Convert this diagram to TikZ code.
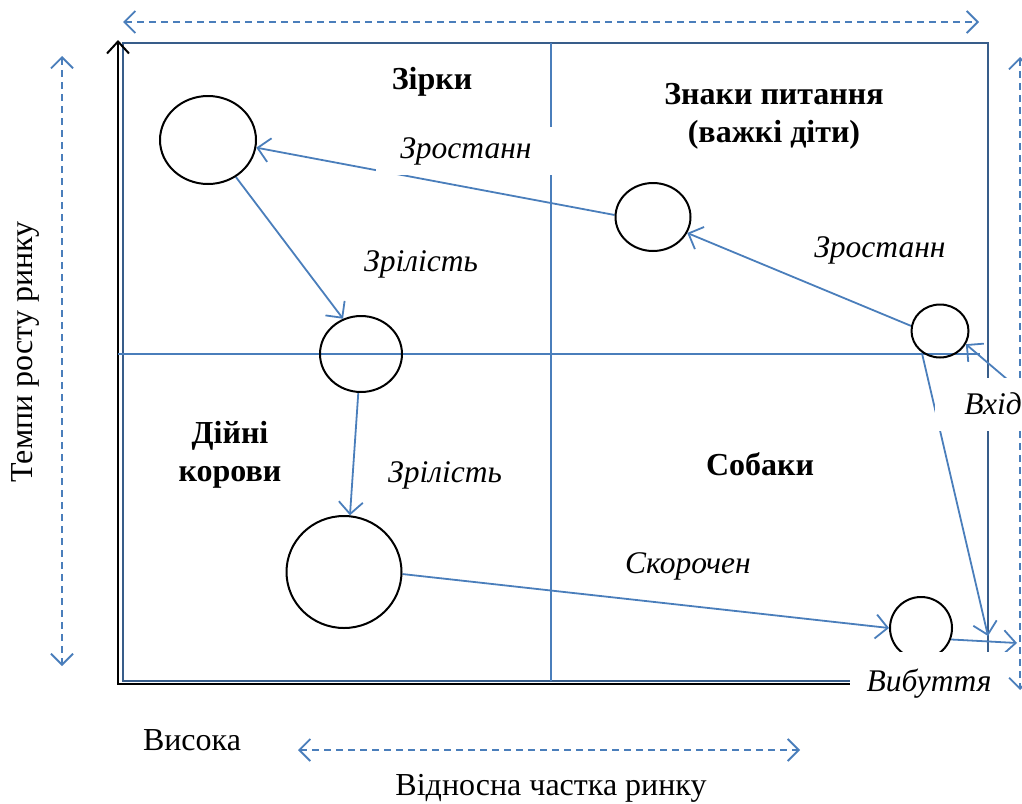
\documentclass[tikz,border=0pt]{standalone}
\usepackage{fontspec}
\setmainfont{Liberation Serif}
\usetikzlibrary{arrows.meta,shapes.geometric}
\definecolor{bluecol}{RGB}{74,126,187}
\definecolor{boxcol}{RGB}{56,93,138}
\pgfdeclarelayer{bg}
\pgfsetlayers{bg,main}
\begin{document}
\begin{tikzpicture}[x=1pt,y=-1pt,
  blu/.style={draw=bluecol, line width=1.8pt},
  conn/.style={blu, -{Straight Barb[length=12pt,width=24pt,line width=1.8pt]}},
  dasharr/.style={blu, dash pattern=on 7pt off 5pt,
     {Straight Barb[length=11pt,width=22pt,line width=1.8pt]}-{Straight Barb[length=11pt,width=22pt,line width=1.8pt]}},
  circ/.style={draw=black, line width=2pt, ellipse, inner sep=0pt},
  bl/.style={font=\bfseries\fontsize{32}{38}\selectfont, inner sep=2pt},
  it/.style={font=\itshape\fontsize{31.5}{36}\selectfont, inner sep=2pt},
  rg/.style={font=\fontsize{32}{38}\selectfont, inner sep=2pt},
  cover/.style={fill=white, inner sep=0pt}]
\useasboundingbox (0,0) rectangle (1022,803);

% circles
\node[circ, minimum width=96pt, minimum height=88pt] (c1) at (208,140) {};
\node[circ, minimum width=75pt, minimum height=68pt] (c2) at (653,217) {};
\node[circ, minimum width=57pt, minimum height=53pt] (c3) at (940,331) {};
\node[circ, minimum width=82pt, minimum height=76pt] (c4) at (361,354) {};
\node[circ, minimum width=115pt, minimum height=112pt] (c5) at (344,572) {};
\node[circ, minimum width=62pt, minimum height=62pt] (c6) at (921,628) {};

% labels
\node[bl] (stars) at (432,82) {Зірки};
\node[bl, align=center] (qm) at (774,116) {Знаки питання\\(важкі діти)};
\node[bl, align=center] (cows) at (230,455) {Дійні\\корови};
\node[bl] (dogs) at (760,464) {Собаки};
\node[it, cover, minimum width=180pt, minimum height=48pt] (g1) at (466,151) {Зростанн};
\node[it] (m1) at (421,264) {Зрілість};
\node[it] (g2) at (880,250) {Зростанн};
\node[it] (m2) at (445,475) {Зрілість};
\node[it] (dec) at (688,566) {Скорочен};
\node[it, cover, minimum width=116pt, minimum height=53pt] (inl) at (993,404) {Вхід};
\node[it, cover, minimum width=158pt, minimum height=64pt] (outl) at (929,684) {Вибуття};
\node[rg, rotate=90] (ya) at (25,352) {Темпи росту ринку};
\node[rg] (hi) at (192,740) {Висока};
\node[rg] (xa) at (551,788) {Відносна частка ринку};

\coordinate (vin) at (1008,380);
\coordinate (exitpt) at (988,636);
\coordinate (outpt) at (1017,643);

\begin{pgfonlayer}{bg}
  % frame
  \draw[draw=boxcol, line width=2pt] (123,43) rectangle (988,681);
  \draw[black, line width=2pt, -{Straight Barb[length=12pt,width=22pt,line width=2pt]}]
     (850,684) -- (118,684) -- (118,40);
  \draw[blu] (551,43) -- (551,681);
  \draw[blu] (118,354) -- (980,354);
  % dashed axes
  \draw[dasharr] (123,22) -- (979,22);
  \draw[dasharr] (62,56) -- (62,666);
  \draw[dasharr] (1020,57) -- (1020,690);
  \draw[dasharr] (298,750) -- (800,750);
  % connectors
  \draw[conn] (c2.177) -- (c1.-9);
  \draw[conn] (c1.-53) -- (c4.117);
  \draw[conn] (c4.-94) -- (c5.84);
  \draw[conn] (c5.-2) -- (c6.180);
  \draw[conn] (c3.170) -- (c2.-25);
  \draw[conn] (vin) -- (c3.-27);
  \draw[conn] (c3.-130) -- (exitpt);
  \draw[conn] (c6.-21) -- (outpt);
\end{pgfonlayer}
\end{tikzpicture}
\end{document}
